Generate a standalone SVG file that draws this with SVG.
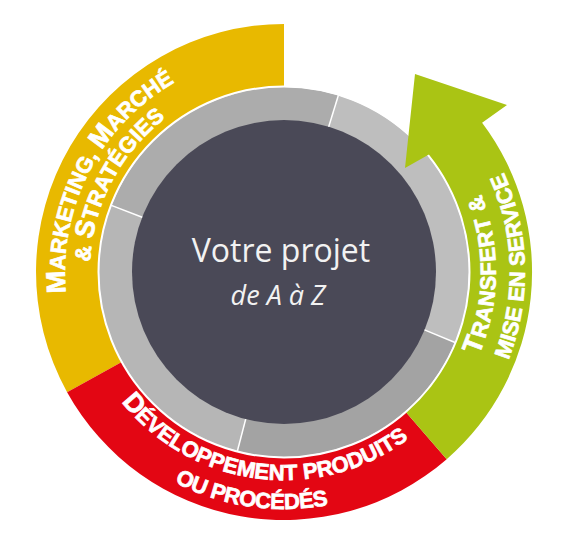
<svg xmlns="http://www.w3.org/2000/svg" width="568" height="559" viewBox="0 0 568 559">
<style>
.band{stroke:none}
.lbl{font-family:"Liberation Sans",Arial,sans-serif;font-weight:bold;fill:#ffffff;stroke:#ffffff;stroke-width:0.7;font-size:22px}
.big{font-size:27px}
.sep{stroke:#ffffff;stroke-width:1.5;fill:none}
.center{font-family:"Open Sans","Noto Sans",sans-serif;fill:#f2f2f2;text-anchor:middle}
</style>
<defs>
<path id="pY1" d="M151.3,446.2 A219,219 0 0 1 349.1,62.9"/>
<path id="pY2" d="M165.2,425.4 A194,194 0 0 1 343.2,87.2"/>
<path id="pR1" d="M76.2,281.8 A208,208 0 0 0 482.6,333.9"/>
<path id="pR2" d="M47.1,278.6 A237,237 0 0 0 508.9,346.8"/>
<path id="pG1" d="M318.1,481.2 A212,212 0 0 0 323.5,63.7"/>
<path id="pG2" d="M332.1,508.2 A241,241 0 0 0 319.6,33.7"/>
</defs>
<rect width="568" height="559" fill="#ffffff"/>
<g id="marketing">
<path class="band" fill="#e8b900" d="M67.1,392.2 A248,248 0 0 1 284,24 L284,87 A185,185 0 0 0 122.2,361.7 Z"/>
<text class="lbl" letter-spacing="0"><textPath href="#pY1" startOffset="50%" text-anchor="middle"><tspan class="big">M</tspan>ARKETING, <tspan class="big">M</tspan>ARCHÉ</textPath></text>
<text class="lbl" letter-spacing="0.3"><textPath href="#pY2" startOffset="50%" text-anchor="middle">&amp; <tspan class="big">S</tspan>TRATÉGIES</textPath></text>
</g>
<g id="developpement">
<path class="band" fill="#e30613" d="M446.7,459.2 A248,248 0 0 1 67.1,392.2 L122.2,361.7 A185,185 0 0 0 405.4,411.6 Z"/>
<text class="lbl" letter-spacing="0"><textPath href="#pR1" startOffset="50%" text-anchor="middle"><tspan class="big">D</tspan>ÉVELOPPEMENT PRODUITS</textPath></text>
<text class="lbl" letter-spacing="-0.4"><textPath href="#pR2" startOffset="50%" text-anchor="middle">OU PROCÉDÉS</textPath></text>
</g>
<g id="projet">
<path fill="#acacac" d="M284,272 L111.4,205.4 A185,185 0 0 1 338.4,95.2 Z"/>
<path fill="#bebebe" d="M284,272 L338.4,95.2 A185,185 0 0 1 455,342.5 Z"/>
<path fill="#a3a3a3" d="M284,272 L455,342.5 A185,185 0 0 1 237.4,451 Z"/>
<path fill="#b6b6b6" d="M284,272 L237.4,451 A185,185 0 0 1 111.4,205.4 Z"/>
<circle cx="284" cy="272" r="185.5" fill="none" stroke="#ffffff" stroke-width="2"/>
<circle cx="284" cy="272" r="152" fill="#4a4957"/>
<text class="center" x="281" y="262" font-size="32">Votre projet</text>
<text class="center" x="278" y="305" font-size="27" font-style="italic">de A à Z</text>
</g>
<g id="connectors">
<line class="sep" x1="142.2" y1="217.3" x2="111.4" y2="205.4"/>
<line class="sep" x1="328.7" y1="126.7" x2="338.4" y2="95.2"/>
<line class="sep" x1="424.5" y1="329.9" x2="455" y2="342.5"/>
<line class="sep" x1="245.7" y1="419.1" x2="237.4" y2="451"/>
</g>
<g id="transfert">
<path class="band" fill="#aac414" d="M446.7,459.2 A248,248 0 0 0 482.1,122.7 L507,105 L415,74 L405,168 L428.9,154.6 A186.5,186.5 0 0 1 406.4,412.7 Z"/>
<text class="lbl" letter-spacing="0.7"><textPath href="#pG1" startOffset="50%" text-anchor="middle"><tspan class="big">T</tspan>RANSFERT &amp;</textPath></text>
<text class="lbl" letter-spacing="0"><textPath href="#pG2" startOffset="50%" text-anchor="middle">MISE EN SERVICE</textPath></text>
</g>
</svg>
